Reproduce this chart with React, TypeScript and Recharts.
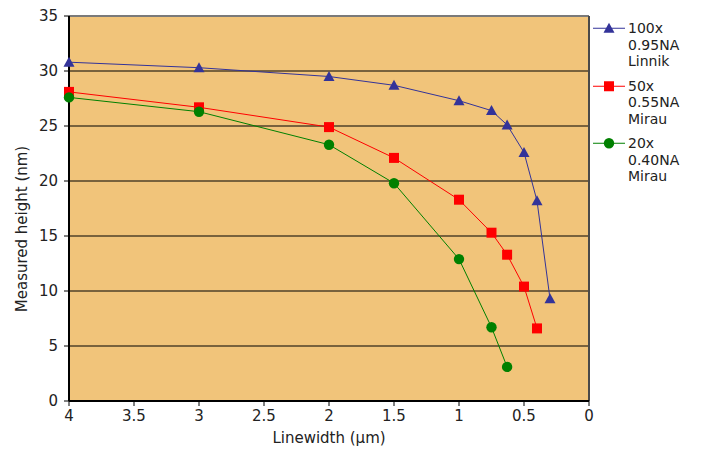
import * as React from "react";
import {
  CartesianGrid,
  Label,
  Legend,
  Line,
  LineChart,
  ReferenceLine,
  XAxis,
  YAxis,
} from "recharts";

const xTicks = [0, 0.5, 1, 1.5, 2, 2.5, 3, 3.5, 4];
const yTicks = [0, 5, 10, 15, 20, 25, 30, 35];

const linnikX = [4, 3, 2, 1.5, 1, 0.75, 0.63, 0.5, 0.4, 0.3];
const linnikY = [30.8, 30.3, 29.5, 28.7, 27.3, 26.4, 25.1, 22.6, 18.2, 9.3];
const mirau50X = [4, 3, 2, 1.5, 1, 0.75, 0.63, 0.5, 0.4];
const mirau50Y = [28.1, 26.7, 24.9, 22.1, 18.3, 15.3, 13.3, 10.4, 6.6];
const mirau20X = [4, 3, 2, 1.5, 1, 0.75, 0.63];
const mirau20Y = [27.6, 26.3, 23.3, 19.8, 12.9, 6.7, 3.1];

const seriesNames = [
  ["100x", "0.95NA", "Linnik"],
  ["50x", "0.55NA", "Mirau"],
  ["20x", "0.40NA", "Mirau"],
];

const toPoints = (xs: number[], ys: number[]) => xs.map((x, i) => ({ x, y: ys[i] }));

const FONT = "'DejaVu Sans', sans-serif";
const BLUE = "#333399";
const RED = "#FF0000";
const GREEN = "#008000";
const PLOT_BG = "#F1C47A";

type Shape = "triangle" | "square" | "circle";

function marker(shape: Shape, cx: number, cy: number, color: string, key?: React.Key) {
  if (shape === "triangle") {
    return (
      <path
        key={key}
        d={`M${cx},${cy - 5.5}L${cx + 5.5},${cy + 4.5}L${cx - 5.5},${cy + 4.5}Z`}
        fill={color}
      />
    );
  }
  if (shape === "square") {
    return <rect key={key} x={cx - 5} y={cy - 5} width={10} height={10} fill={color} />;
  }
  return <circle key={key} cx={cx} cy={cy} r={5.2} fill={color} />;
}

const dotOf = (shape: Shape, color: string) => (props: any) =>
  marker(shape, props.cx, props.cy, color, `${shape}-${props.index}`);

const legendItems: { color: string; shape: Shape }[] = [
  { color: BLUE, shape: "triangle" },
  { color: RED, shape: "square" },
  { color: GREEN, shape: "circle" },
];

function LegendBox() {
  return (
    <div style={{ fontFamily: FONT, fontSize: 14, color: "#222", lineHeight: "16.5px" }}>
      {legendItems.map((it, i) => (
        <div key={i} style={{ display: "flex", alignItems: "flex-start", marginBottom: 8 }}>
          <svg width={36} height={16.5} style={{ flex: "none" }}>
            <line x1={3} y1={8.25} x2={35} y2={8.25} stroke={it.color} strokeWidth={1} />
            {marker(it.shape, 19, 8.25, it.color)}
          </svg>
          <div style={{ marginLeft: 2 }}>
            {seriesNames[i].map((t) => (
              <div key={t}>{t}</div>
            ))}
          </div>
        </div>
      ))}
    </div>
  );
}

export default function App() {
  const tickStyle = { fontFamily: FONT, fontSize: 15, fill: "#222" };
  return (
    <div style={{ position: "absolute", left: 0, top: 0, width: 704, height: 453, background: "#fff" }}>
      <LineChart width={704} height={453} margin={{ top: 16, right: 115, bottom: 12, left: 0 }}>
        <CartesianGrid vertical={false} stroke="#000" strokeWidth={1} fill={PLOT_BG} fillOpacity={1} />
        <XAxis
          dataKey="x"
          type="number"
          domain={[0, 4]}
          ticks={xTicks}
          reversed
          allowDuplicatedCategory={false}
          height={40}
          tick={tickStyle}
          tickSize={5}
          tickMargin={4}
          axisLine={{ stroke: "#000", strokeWidth: 2 }}
          tickLine={{ stroke: "#000" }}
        >
          <Label
            content={({ viewBox }: any) => (
              <text
                x={viewBox.x + viewBox.width / 2}
                y={viewBox.y + 42}
                textAnchor="middle"
                style={{ fontFamily: FONT, fontSize: 15, fill: "#222" }}
              >
                Linewidth (µm)
              </text>
            )}
          />
        </XAxis>
        <YAxis
          type="number"
          domain={[0, 35]}
          ticks={yTicks}
          interval={0}
          width={69}
          tick={tickStyle}
          tickSize={5}
          tickMargin={6}
          axisLine={{ stroke: "#000", strokeWidth: 2 }}
          tickLine={{ stroke: "#000" }}
        >
          <Label
            content={() => (
              <text
                x={22}
                y={229}
                transform="rotate(-90 22 229)"
                textAnchor="middle"
                dominantBaseline="central"
                style={{ fontFamily: FONT, fontSize: 15, fill: "#222" }}
              >
                Measured height (nm)
              </text>
            )}
          />
        </YAxis>
        <ReferenceLine y={35} stroke="#7a7a7a" strokeWidth={2} />
        <ReferenceLine x={0} stroke="#4a4a4a" strokeWidth={2} />
        <Legend
          layout="vertical"
          align="center"
          verticalAlign="middle"
          wrapperStyle={{ top: 20.25, left: 590, width: 114 }}
          content={() => <LegendBox />}
        />
        <Line
          data={toPoints(linnikX, linnikY)}
          dataKey="y"
          name="100x 0.95NA Linnik"
          stroke={BLUE}
          strokeWidth={1}
          dot={dotOf("triangle", BLUE)}
          activeDot={false}
          isAnimationActive={false}
        />
        <Line
          data={toPoints(mirau50X, mirau50Y)}
          dataKey="y"
          name="50x 0.55NA Mirau"
          stroke={RED}
          strokeWidth={1}
          dot={dotOf("square", RED)}
          activeDot={false}
          isAnimationActive={false}
        />
        <Line
          data={toPoints(mirau20X, mirau20Y)}
          dataKey="y"
          name="20x 0.40NA Mirau"
          stroke={GREEN}
          strokeWidth={1}
          dot={dotOf("circle", GREEN)}
          activeDot={false}
          isAnimationActive={false}
        />
      </LineChart>
    </div>
  );
}
